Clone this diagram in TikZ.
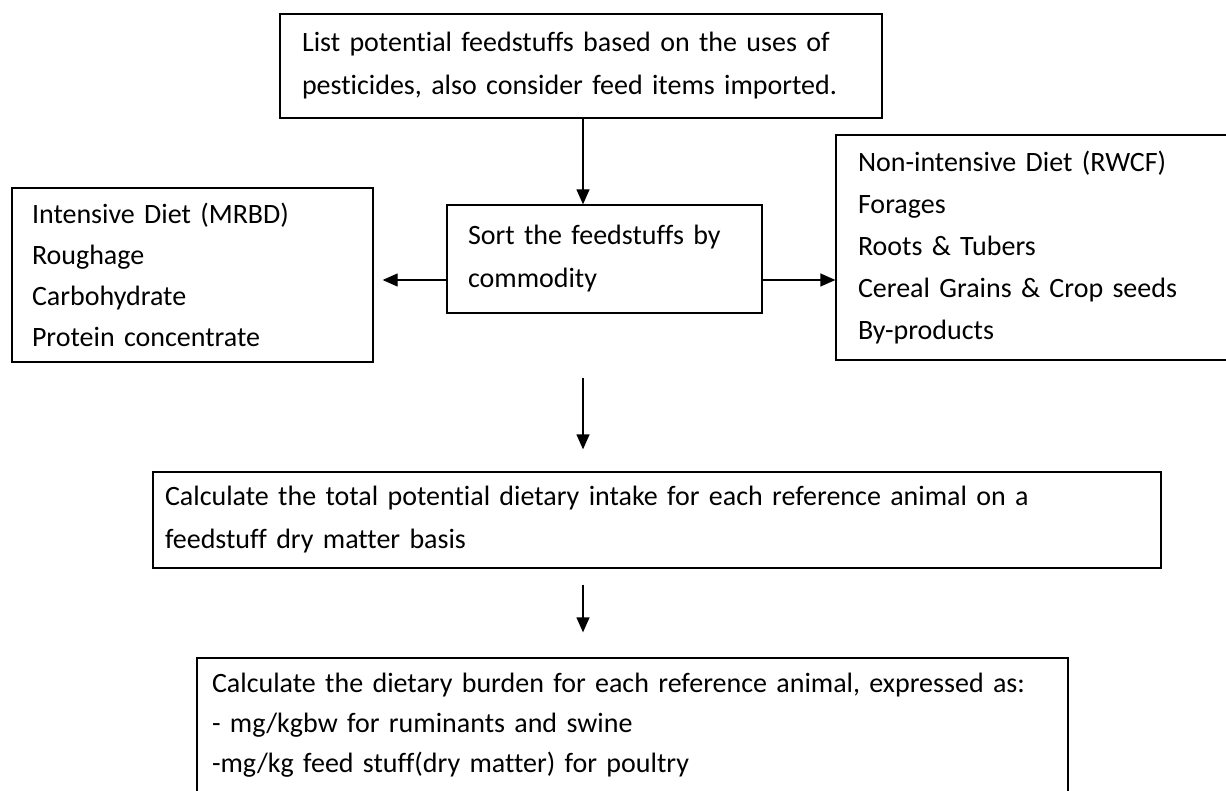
\documentclass[tikz,border=0pt]{standalone}
\usepackage{fontspec}
\setmainfont{Carlito}[Ligatures=NoCommon]
\usetikzlibrary{arrows.meta}
\begin{document}
\begin{tikzpicture}[x=1pt,y=-1pt,
  box/.style={draw, line width=1.3pt, align=left, inner ysep=0pt, anchor=center,
    font=\fontsize{28}{43}\selectfont},
  arr/.style={line width=1.3pt, -{Triangle[length=15pt,width=13pt]}}]
\useasboundingbox (0,0) rectangle (1226,791);
\node[box, minimum width=602pt, minimum height=104pt, text width=558pt, inner xsep=22pt] (top) at (581,66)
  {List potential feedstuffs based on the uses of\\pesticides, also consider feed items imported.};
\node[box, minimum width=315pt, minimum height=108pt, text width=273pt, inner xsep=21pt] (sort) at (604.5,259)
  {Sort the feedstuffs by\\commodity};
\node[box, minimum width=361pt, minimum height=174pt, text width=321pt, inner xsep=20pt, font=\fontsize{28}{41}\selectfont] (left) at (192.5,275)
  {Intensive Diet (MRBD)\\Roughage\\Carbohydrate\\Protein concentrate};
\node[box, minimum width=396pt, minimum height=225pt, text width=352pt, inner xsep=22pt, font=\fontsize{28}{42}\selectfont] (right) at (1034,247.5)
  {Non-intensive Diet (RWCF)\\Forages\\Roots \& Tubers\\Cereal Grains \& Crop seeds\\By-products};
\node[box, minimum width=1008pt, minimum height=96pt, text width=984pt, inner xsep=12pt] (calc) at (657,520)
  {Calculate the total potential dietary intake for each reference animal on a\\feedstuff dry matter basis};
\node[box, minimum width=871pt, minimum height=134pt, text width=841pt, inner xsep=15pt, font=\fontsize{28}{40}\selectfont] (burden) at (632.5,725)
  {Calculate the dietary burden for each reference animal, expressed as:\\- mg/kgbw for ruminants and swine\\-mg/kg feed stuff(dry matter) for poultry};
\coordinate (ax) at (583,0);
\coordinate (ay) at (0,280);
\draw[arr] (top.south -| ax) -- (sort.north -| ax);
\draw[arr, shorten >=9pt] (sort.west |- ay) -- (left.east |- ay);
\draw[arr] (sort.east |- ay) -- (right.west |- ay);
\draw[arr, shorten <=64pt, shorten >=22pt] (sort.south -| ax) -- (calc.north -| ax);
\draw[arr, shorten <=16pt, shorten >=25pt] (calc.south -| ax) -- (burden.north -| ax);
\end{tikzpicture}
\end{document}
